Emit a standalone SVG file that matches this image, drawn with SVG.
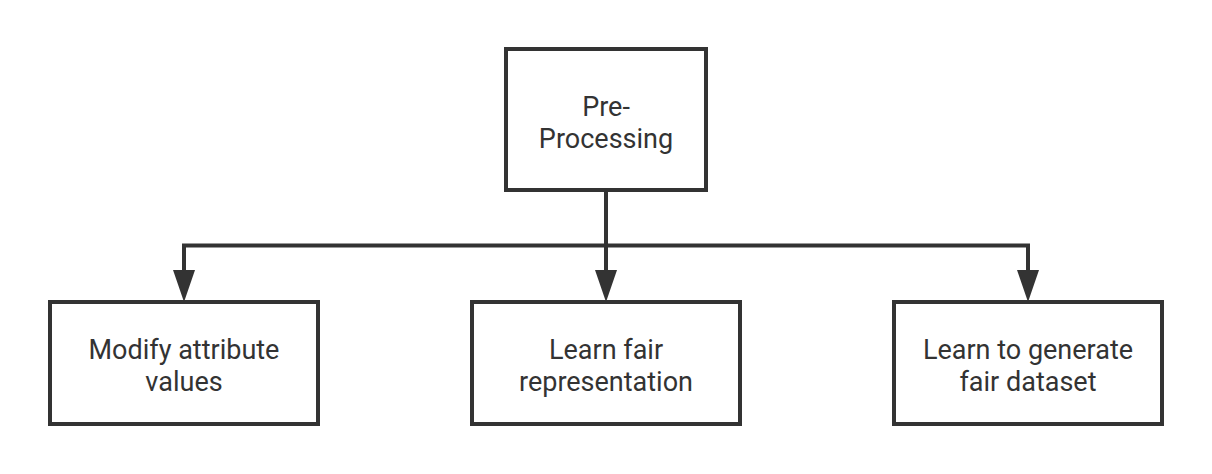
<svg xmlns="http://www.w3.org/2000/svg" width="1212" height="474" viewBox="0 0 1212 474">
<style>
.box{fill:#fff;stroke:#333;stroke-width:4}
.lbl{font-family:Roboto,"Open Sans",sans-serif;font-size:27px;fill:#333;text-anchor:middle}
.edge{fill:none;stroke:#333;stroke-width:4}
.head{fill:#333}
</style>
<rect width="1212" height="474" fill="#fff"/>
<g id="connectors">
<path class="edge" d="M606 190 V270"/>
<path class="edge" d="M184 272 V245.5 H1028 V272"/>
<polygon class="head" points="173,270 195,270 184,302"/>
<polygon class="head" points="595,270 617,270 606,302"/>
<polygon class="head" points="1017,270 1039,270 1028,302"/>
</g>
<g id="pre-processing">
<rect class="box" x="506" y="49" width="200" height="141"/>
<text class="lbl" x="606" y="116">Pre-<tspan x="606" dy="32">Processing</tspan></text>
</g>
<g id="modify-attribute-values">
<rect class="box" x="50" y="302" width="268" height="122"/>
<text class="lbl" x="184" y="359">Modify attribute<tspan x="184" dy="32">values</tspan></text>
</g>
<g id="learn-fair-representation">
<rect class="box" x="472" y="302" width="268" height="122"/>
<text class="lbl" x="606" y="359">Learn fair<tspan x="606" dy="32">representation</tspan></text>
</g>
<g id="learn-to-generate-fair-dataset">
<rect class="box" x="894" y="302" width="268" height="122"/>
<text class="lbl" x="1028" y="359">Learn to generate<tspan x="1028" dy="32">fair dataset</tspan></text>
</g>
</svg>
